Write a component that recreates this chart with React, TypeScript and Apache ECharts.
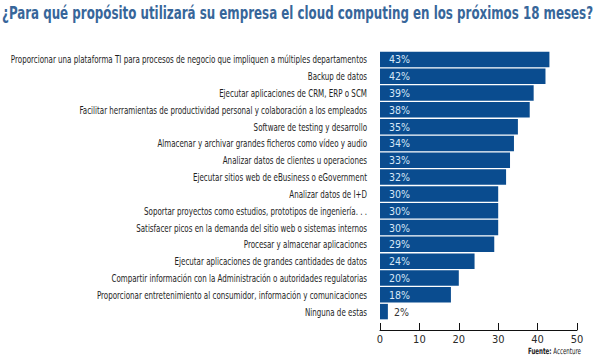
import React, { useEffect, useRef } from "react";
import * as echarts from "echarts";

const categories: string[] = [
  "Proporcionar una plataforma TI para procesos de negocio que impliquen a múltiples departamentos",
  "Backup de datos",
  "Ejecutar aplicaciones de CRM, ERP o SCM",
  "Facilitar herramientas de productividad personal y colaboración a los empleados",
  "Software de testing y desarrollo",
  "Almacenar y archivar grandes ficheros como vídeo y audio",
  "Analizar datos de clientes u operaciones",
  "Ejecutar sitios web de eBusiness o eGovernment",
  "Analizar datos de I+D",
  "Soportar proyectos como estudios, prototipos de ingeniería. . .",
  "Satisfacer picos en la demanda del sitio web o sistemas internos",
  "Procesar y almacenar aplicaciones",
  "Ejecutar aplicaciones de grandes cantidades de datos",
  "Compartir información con la Administración o autoridades regulatorias",
  "Proporcionar entretenimiento al consumidor, información y comunicaciones",
  "Ninguna de estas",
];
const values: number[] = [43, 42, 39, 38, 35, 34, 33, 32, 30, 30, 30, 29, 24, 20, 18, 2];
const axisTicks: number[] = [0, 10, 20, 30, 40, 50];
const titleText = "¿Para qué propósito utilizará su empresa el cloud computing en los próximos 18 meses?";
const sourceText = "Accenture";

const FONT = "'DejaVu Sans Condensed', 'Liberation Sans', sans-serif";
const BAR = "#0a4c8f";

export default function App() {
  const ref = useRef<HTMLDivElement>(null);
  useEffect(() => {
    if (!ref.current) return;
    const chart = echarts.init(ref.current, undefined, { renderer: "svg" });
    chart.setOption({
      animation: false,
      backgroundColor: "#ffffff",
      textStyle: { fontFamily: FONT },
      grid: {
        left: 380,
        right: 23,
        top: 51,
        height: 269,
        containLabel: false,
        outerBoundsMode: "none",
      },
      xAxis: {
        type: "value",
        min: axisTicks[0],
        max: axisTicks[axisTicks.length - 1],
        interval: axisTicks[1] - axisTicks[0],
        offset: 10,
        axisLine: { show: true, lineStyle: { color: "#111", width: 1 } },
        axisTick: { show: true, inside: true, length: 7, lineStyle: { color: "#111" } },
        axisLabel: { fontFamily: FONT, fontSize: 11, color: "#2a2a2a", margin: 4 },
        splitLine: { show: false },
      },
      yAxis: {
        type: "category",
        inverse: true,
        data: categories,
        axisLine: { show: false },
        axisTick: { show: false },
        axisLabel: { show: false },
      },
      series: [
        {
          type: "bar",
          barCategoryGap: "8%",
          data: values.map((v) => ({
            value: v,
            label: v < 5 ? { color: "#333", position: [14, "50%"] } : undefined,
          })),
          itemStyle: { color: BAR },
          label: {
            show: true,
            position: [9, "50%"],
            verticalAlign: "middle",
            formatter: "{c}%",
            fontFamily: FONT,
            fontSize: 10.5,
            color: "#d8e8f7",
          },
        },
      ],
    });

    const x0 = chart.convertToPixel({ xAxisIndex: 0 }, 0) as number;
    const labelEls = categories.map((c, i) => {
      const y = chart.convertToPixel({ yAxisIndex: 0 }, i) as number;
      return {
        type: "text",
        x: x0 - 13,
        y: y,
        scaleX: 0.72,
        silent: true,
        style: {
          text: c,
          x: 0,
          y: 0,
          align: "right",
          verticalAlign: "middle",
          fontFamily: FONT,
          fontSize: 11,
          fill: "#1e1e1e",
        },
      };
    });

    chart.setOption({
      graphic: [
        {
          type: "text",
          x: 2,
          y: 13,
          scaleX: 0.776,
          style: {
            text: titleText,
            x: 0,
            y: 0,
            verticalAlign: "middle",
            fontFamily: FONT,
            fontSize: 17,
            fontWeight: "bold",
            fill: "#37669a",
          },
        },
        {
          type: "text",
          x: 581,
          y: 351,
          scaleX: 0.72,
          style: {
            text: "{b|Fuente:} " + sourceText,
            x: 0,
            y: 0,
            align: "right",
            verticalAlign: "middle",
            rich: {
              b: { fontWeight: "bold", fontSize: 8.5, fontFamily: FONT, fill: "#222" },
            },
            fontSize: 8.5,
            fontFamily: FONT,
            fill: "#222",
          },
        },
        ...labelEls,
      ],
    });
    return () => chart.dispose();
  }, []);
  return (
    <div
      ref={ref}
      style={{ position: "fixed", left: 0, top: 0, width: 600, height: 356 }}
    />
  );
}
